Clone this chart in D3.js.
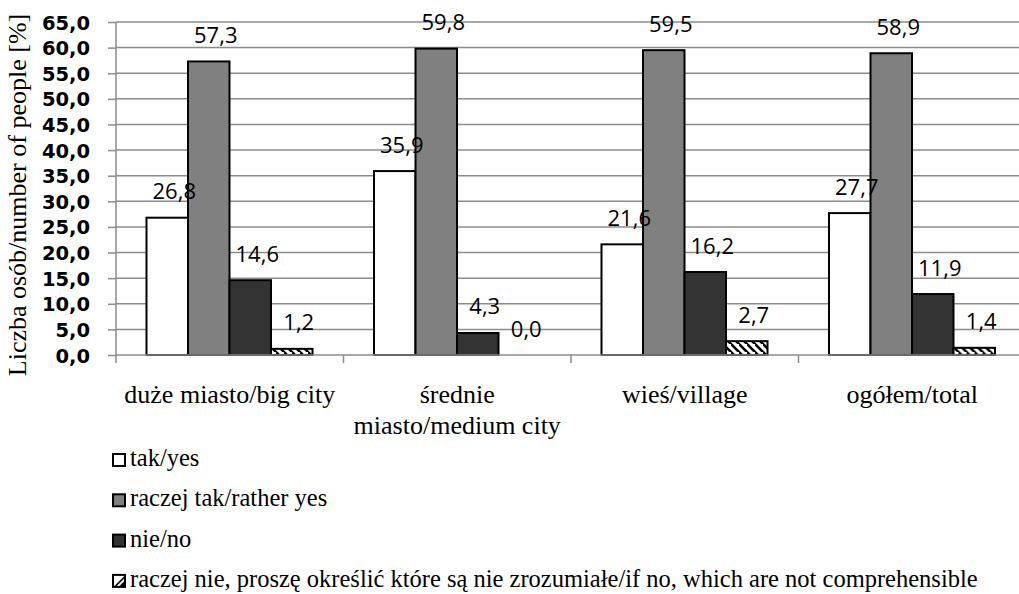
<!DOCTYPE html>
<html><head><meta charset="utf-8">
<script src="https://cdn.jsdelivr.net/npm/d3@7"></script>
<style>
html,body{margin:0;padding:0;background:#fff;}svg{display:block;}
.serif{font-family:"Liberation Serif","Times New Roman",Times,serif;}
.sans{font-family:"Open Sans",sans-serif;}
.tickb{font-family:"DejaVu Sans",sans-serif;font-weight:bold;}
</style>
</head><body>
<script>
const categories = [["duże miasto/big city"], ["średnie", "miasto/medium city"], ["wieś/village"], ["ogółem/total"]];
const seriesNames = ["tak/yes", "raczej tak/rather yes", "nie/no", "raczej nie, proszę określić które są nie zrozumiałe/if no, which are not comprehensible"];
const takYes = [26.8, 35.9, 21.6, 27.7];
const raczejTak = [57.3, 59.8, 59.5, 58.9];
const nieNo = [14.6, 4.3, 16.2, 11.9];
const raczejNie = [1.2, 0.0, 2.7, 1.4];
const yTicks = [0, 5, 10, 15, 20, 25, 30, 35, 40, 45, 50, 55, 60, 65];
const yTitle = "Liczba osób/number of people [%]";

const W = 1019, H = 594;
const svg = d3.select("body").append("svg").attr("width", W).attr("height", H);
const defs = svg.append("defs");
const pat = defs.append("pattern").attr("id", "hatch").attr("patternUnits", "userSpaceOnUse")
  .attr("width", 8).attr("height", 8);
pat.append("rect").attr("width", 8).attr("height", 8).attr("fill", "#fff");
pat.append("path").attr("d", "M-2,-2 L10,10 M-6,2 L2,10 M6,-6 L14,2").attr("stroke", "#000").attr("stroke-width", 2.6);
const lpat = defs.append("pattern").attr("id", "lhatch").attr("patternUnits", "objectBoundingBox")
  .attr("width", 1).attr("height", 1).attr("patternContentUnits", "objectBoundingBox");
lpat.append("rect").attr("width", 1).attr("height", 1).attr("fill", "#fff");
lpat.append("path").attr("d", "M1,0.05 L1,1 L0.05,1 Z").attr("fill", "#000");
lpat.append("path").attr("d", "M0.35,1 L1,0.35").attr("stroke", "#fff").attr("stroke-width", 0.16);

const fills = ["#ffffff", "#808080", "#333333", "url(#hatch)"];
const legendFills = ["#ffffff", "#808080", "#333333", "url(#lhatch)"];
const series = [takYes, raczejTak, nieNo, raczejNie];

const x0 = d3.scaleBand().domain(d3.range(categories.length)).range([116, 1026]).padding(0);
const x1 = d3.scaleBand().domain(d3.range(series.length)).range([30.5, 196.5]).padding(0);
const y = d3.scaleLinear().domain([0, 65]).range([355, 22]);

// gridlines
svg.append("g").selectAll("line").data(yTicks.filter(d => d > 0)).join("line")
  .attr("x1", 116).attr("x2", W).attr("y1", d => y(d)).attr("y2", d => y(d))
  .attr("stroke", "#8c8c8c").attr("stroke-width", 1.5);

// y axis
const yAxis = svg.append("g").attr("transform", "translate(116,0)")
  .call(d3.axisLeft(y).tickValues(yTicks).tickSize(8).tickPadding(18)
    .tickFormat(d => d3.format(".1f")(d).replace(".", ",")));
yAxis.attr("font-family", null).attr("font-size", null);
yAxis.select(".domain").attr("stroke", "#8c8c8c").attr("stroke-width", 1.5).attr("d", "M0,363V22");
yAxis.selectAll(".tick line").attr("stroke", "#8c8c8c").attr("stroke-width", 1.5);
yAxis.selectAll(".tick text").attr("class", "tickb").style("font-size", "19.5px")
  .attr("fill", "#000").attr("dy", "0.36em");

// bars
const groups = svg.append("g").selectAll("g").data(categories).join("g")
  .attr("transform", (d, i) => `translate(${x0(i)},0)`);
groups.selectAll("rect").data((d, i) => series.map((s, j) => ({ j, v: s[i] }))).join("rect")
  .attr("x", d => x1(d.j)).attr("width", x1.bandwidth())
  .attr("y", d => y(d.v)).attr("height", d => y(0) - y(d.v))
  .attr("fill", d => fills[d.j]).attr("stroke", "#000").attr("stroke-width", d => d.v > 0 ? 2 : 0);
groups.selectAll("text").data((d, i) => series.map((s, j) => ({ j, v: s[i] }))).join("text")
  .attr("class", "sans")
  .attr("x", d => x1(d.j) + x1.bandwidth() / 2 + 7).attr("y", d => y(d.v) - 18.5)
  .attr("text-anchor", "middle").style("font-size", "22px")
  .text(d => d3.format(".1f")(d.v).replace(".", ","));

// x axis
const xAxisG = svg.append("g");
xAxisG.append("line").attr("x1", 116).attr("x2", W).attr("y1", 355).attr("y2", 355)
  .attr("stroke", "#8c8c8c").attr("stroke-width", 1.5);
xAxisG.selectAll("line.tk").data(d3.range(1, categories.length + 1)).join("line").attr("class", "tk")
  .attr("x1", i => x0.step() * i + 116).attr("x2", i => x0.step() * i + 116)
  .attr("y1", 355).attr("y2", 363).attr("stroke", "#8c8c8c").attr("stroke-width", 1.5);
const catText = xAxisG.selectAll("text").data(categories).join("text")
  .attr("class", "serif")
  .attr("x", (d, i) => x0(i) + x0.bandwidth() / 2).attr("y", 403)
  .attr("text-anchor", "middle").style("font-size", "26px");
catText.selectAll("tspan").data(d => d).join("tspan")
  .attr("x", function () { return d3.select(this.parentNode).attr("x"); })
  .attr("dy", (d, k) => k === 0 ? 0 : 31).text(d => d);

// y title
svg.append("text").attr("class", "serif").attr("transform", "translate(26,195) rotate(-90)")
  .attr("text-anchor", "middle").style("font-size", "26px")
  .text(yTitle);

// legend
const lg = svg.append("g").selectAll("g").data(seriesNames).join("g")
  .attr("transform", (d, i) => `translate(112,${466 + i * 40.3})`);
lg.append("rect").attr("x", 1).attr("y", -12).attr("width", 12).attr("height", 12)
  .attr("fill", (d, i) => legendFills[i]).attr("stroke", "#000").attr("stroke-width", 2);
lg.append("text").attr("class", "serif").attr("x", 18).attr("y", 0)
  .style("font-size", "24.5px").text(d => d);
</script>
</body></html>
